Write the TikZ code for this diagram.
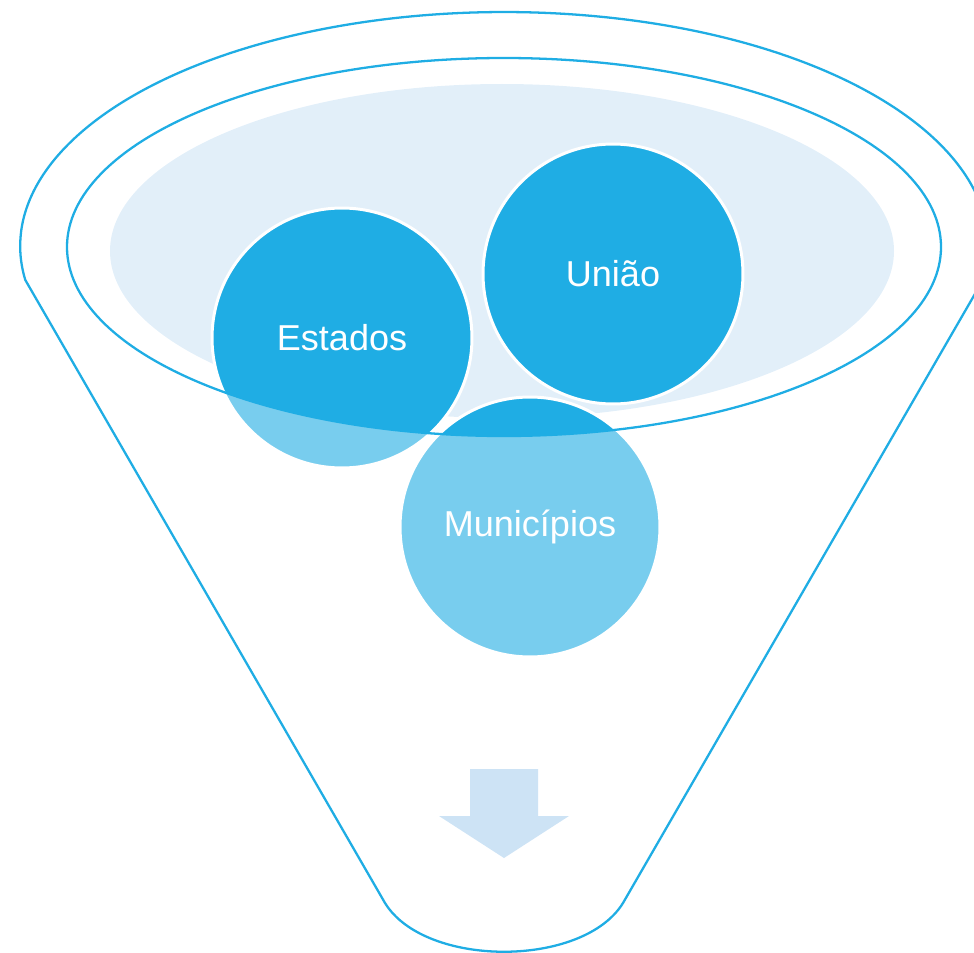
\documentclass[tikz,border=0pt]{standalone}
\usepackage{fontspec}
\setmainfont{Liberation Sans}
\definecolor{funnelblue}{HTML}{1FADE4}
\definecolor{paleblue}{HTML}{E2EFF9}
\definecolor{arrowblue}{HTML}{CDE3F5}
\tikzset{
  ball/.style={circle, fill=funnelblue, draw=white, line width=1.7pt,
    minimum size=5.2cm, inner sep=0pt, text=white, font=\fontsize{20.5}{24}\selectfont},
  rim/.style={draw=funnelblue, line width=1.3pt}
}

\begin{document}
\begin{tikzpicture}[x=0.02cm, y=-0.02cm]
\useasboundingbox (0,0) rectangle (974,953);

% inner surface of the funnel
\fill[paleblue] (502,251) ellipse [x radius=392, y radius=167];

\foreach \name/\x/\y/\txt in {estados/342/338/Estados, uniao/613/274/União, municipios/530/527/Municípios} {
  \node[ball] (\name) at (\x,\y) {\txt};
}

% front of the funnel lightens what hangs below the rim
\fill[white, fill opacity=0.4, even odd rule] (0,0) rectangle (974,953) (504,247) ellipse [x radius=437, y radius=189];
\draw[rim] (504,247) ellipse [x radius=437, y radius=189];

% funnel body
\draw[rim] (983,280) arc[start angle=8.35, end angle=-188.35, x radius=484, y radius=234]
  -- (385,903) .. controls (425,968) and (583,968) .. (623,903) -- cycle;

% arrow out of the spout
\fill[arrowblue] (470,769) -- (538,769) -- (538,816) -- (569,816) -- (504,858)
  -- (439,816) -- (470,816) -- cycle;
\end{tikzpicture}
\end{document}
